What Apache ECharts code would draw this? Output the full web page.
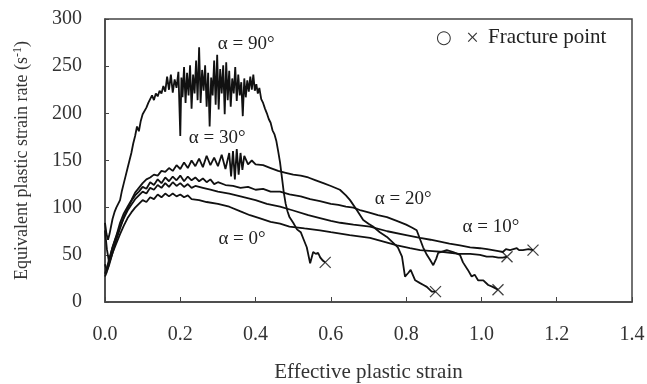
<!DOCTYPE html>
<html><head><meta charset="utf-8">
<script src="https://cdn.jsdelivr.net/npm/echarts@6/dist/echarts.min.js"></script>
<style>html,body{margin:0;padding:0;background:#fff}#c{width:647px;height:384px}</style>
</head><body><div id="c"></div>
<script>
var xTicks = [0, 0.2, 0.4, 0.6, 0.8, 1.0, 1.2, 1.4];
var yTicks = [0, 50, 100, 150, 200, 250, 300];

var alpha90 = [[0,84],[0.004,72],[0.008,66],[0.012,72],[0.016,80],[0.02,88],[0.025,95],[0.03,100],[0.035,104],[0.04,108],[0.045,118],[0.05,126],[0.055,134],[0.06,142],[0.065,150],[0.07,158],[0.075,168],[0.08,176],[0.085,186],[0.09,181],[0.095,192],[0.1,199],[0.105,197],[0.11,206],[0.115,211],[0.12,215],[0.125,219],[0.13,214],[0.135,221],[0.14,218],[0.145,224],[0.15,221],[0.155,229],[0.16,223],[0.165,239],[0.17,225],[0.175,241],[0.18,222],[0.185,236],[0.19,227],[0.195,244],[0.2,176],[0.203,238],[0.206,217],[0.21,249],[0.214,211],[0.218,243],[0.222,219],[0.226,251],[0.23,205],[0.234,241],[0.238,221],[0.242,256],[0.246,214],[0.25,270],[0.254,211],[0.258,246],[0.262,224],[0.266,251],[0.27,207],[0.274,243],[0.278,186],[0.282,238],[0.286,219],[0.29,256],[0.294,209],[0.298,262],[0.302,204],[0.306,247],[0.31,221],[0.314,251],[0.318,199],[0.322,254],[0.326,214],[0.33,245],[0.334,207],[0.338,237],[0.342,221],[0.346,249],[0.35,213],[0.354,241],[0.358,219],[0.362,233],[0.366,197],[0.37,237],[0.374,217],[0.378,235],[0.382,223],[0.386,239],[0.39,225],[0.394,241],[0.398,224],[0.402,231],[0.406,221],[0.41,227],[0.415,215],[0.42,211],[0.425,205],[0.43,200],[0.435,194],[0.44,190],[0.445,182],[0.45,178],[0.455,171],[0.46,160],[0.465,148],[0.47,132],[0.475,116],[0.48,104],[0.485,96],[0.49,90],[0.5,84],[0.51,77],[0.52,74],[0.528,66],[0.536,58],[0.545,41],[0.553,53],[0.56,51],[0.566,52],[0.572,47],[0.578,44],[0.585,42]];

var alpha30 = [[0,76],[0.005,56],[0.01,44],[0.015,50],[0.02,58],[0.03,70],[0.04,84],[0.05,94],[0.06,101],[0.07,108],[0.08,116],[0.09,121],[0.1,126],[0.11,130],[0.12,132],[0.13,135],[0.14,134],[0.15,139],[0.16,138],[0.17,142],[0.18,139],[0.19,145],[0.2,141],[0.21,148],[0.22,142],[0.23,150],[0.24,144],[0.25,152],[0.26,143],[0.27,155],[0.28,145],[0.29,153],[0.3,144],[0.31,156],[0.32,141],[0.33,158],[0.335,133],[0.34,160],[0.345,130],[0.35,162],[0.355,135],[0.36,158],[0.365,140],[0.37,155],[0.38,146],[0.39,150],[0.4,146],[0.42,145],[0.44,142],[0.46,139],[0.48,137],[0.5,135],[0.52,134],[0.54,132],[0.56,129],[0.58,126],[0.6,123],[0.624,119],[0.64,113],[0.651,108],[0.668,98],[0.686,87],[0.7,83],[0.712,80],[0.73,74],[0.749,69],[0.765,63],[0.778,58],[0.789,48],[0.797,27],[0.806,31],[0.812,34],[0.824,23],[0.837,20],[0.846,18],[0.855,16],[0.868,11],[0.878,11]];

var alpha20 = [[0,40],[0.005,33],[0.01,38],[0.02,52],[0.03,66],[0.04,78],[0.05,90],[0.06,99],[0.07,107],[0.08,113],[0.09,117],[0.1,122],[0.11,120],[0.12,127],[0.13,124],[0.14,130],[0.15,126],[0.16,132],[0.17,128],[0.18,133],[0.19,129],[0.2,134],[0.21,128],[0.22,133],[0.23,129],[0.24,132],[0.25,128],[0.26,131],[0.27,127],[0.28,130],[0.29,125],[0.3,127],[0.32,124],[0.34,123],[0.36,121],[0.38,122],[0.4,119],[0.42,120],[0.44,117],[0.465,117],[0.49,114],[0.52,112],[0.545,109],[0.571,107],[0.6,104],[0.62,103],[0.64,101],[0.66,100],[0.68,97],[0.7,95],[0.725,92],[0.749,90],[0.775,86],[0.8,82],[0.815,79],[0.828,76],[0.845,58],[0.855,50],[0.863,45],[0.872,39],[0.88,46],[0.885,52],[0.89,53],[0.908,55],[0.925,53],[0.943,50],[0.951,42],[0.964,34],[0.974,27],[0.982,29],[0.991,23],[1.005,23],[1.018,18],[1.03,16],[1.044,13]];

var alpha10 = [[0,30],[0.005,36],[0.01,44],[0.02,58],[0.03,70],[0.04,80],[0.05,89],[0.06,97],[0.07,103],[0.08,109],[0.09,113],[0.1,117],[0.11,115],[0.12,121],[0.13,119],[0.14,124],[0.15,121],[0.16,126],[0.17,122],[0.18,127],[0.19,123],[0.2,126],[0.21,122],[0.22,125],[0.23,121],[0.24,123],[0.26,121],[0.28,119],[0.3,117],[0.33,115],[0.36,112],[0.4,108],[0.43,104],[0.465,101],[0.5,97],[0.54,92],[0.571,89],[0.6,86],[0.625,84],[0.66,82],[0.704,80],[0.75,75],[0.8,71],[0.837,68],[0.865,66],[0.89,64],[0.915,62],[0.943,60],[0.97,58],[0.996,57],[1.015,56],[1.03,55],[1.045,54],[1.057,53],[1.065,56],[1.076,55],[1.085,56],[1.094,57],[1.1,55],[1.11,55],[1.125,56],[1.137,55]];

var alpha0 = [[0,27],[0.005,32],[0.01,40],[0.02,52],[0.03,62],[0.04,72],[0.05,81],[0.06,89],[0.07,95],[0.08,100],[0.09,104],[0.1,108],[0.11,106],[0.12,111],[0.13,109],[0.14,114],[0.15,111],[0.16,115],[0.17,112],[0.18,115],[0.19,112],[0.2,114],[0.21,111],[0.22,113],[0.23,109],[0.25,108],[0.27,106],[0.3,104],[0.33,101],[0.36,96],[0.385,92],[0.41,89],[0.44,85],[0.465,83],[0.49,80],[0.53,78],[0.571,76],[0.6,74],[0.65,71],[0.704,68],[0.74,64],[0.776,60],[0.81,57],[0.837,55],[0.87,54],[0.9,53],[0.94,51],[0.97,51],[0.996,50],[1.014,48],[1.03,48],[1.045,47],[1.057,47],[1.068,48]];

var curveNames = ['α = 90°', 'α = 30°', 'α = 20°', 'α = 10°', 'α = 0°'];
var curves = [alpha90, alpha30, alpha20, alpha10, alpha0];
var labelPos = [[0.375, 273], [0.298, 174], [0.792, 109], [1.025, 80], [0.364, 67]];

var FONT = 'Liberation Serif';
var chart = echarts.init(document.getElementById('c'), null, {renderer: 'canvas'});

var series = curves.map(function (d, i) {
  return {
    type: 'line', name: curveNames[i], data: d, showSymbol: false, symbol: 'none',
    lineStyle: {color: '#111', width: 1.8}, animation: false, z: 3,
    markPoint: {
      symbol: 'circle', symbolSize: 0, animation: false,
      label: {show: true, formatter: curveNames[i], color: '#222', fontFamily: FONT, fontSize: 19, position: 'inside'},
      data: [{coord: labelPos[i]}]
    }
  };
});
series.push({
  type: 'scatter', name: 'Fracture point', animation: false, z: 4,
  symbol: 'path://M0,0L10,10M10,0L0,10', symbolSize: 11,
  itemStyle: {color: 'rgba(0,0,0,0)', borderColor: '#111', borderWidth: 1.3},
  data: curves.map(function (d) { return d[d.length - 1]; })
});

chart.setOption({
  backgroundColor: '#fff',
  animation: false,
  grid: {left: 105, top: 19, right: 15, bottom: 82, show: true, borderColor: '#444', borderWidth: 1.5,
         containLabel: false, outerBoundsMode: 'none'},
  xAxis: {
    type: 'value', min: 0, max: 1.4, interval: 0.2,
    axisLine: {show: true, lineStyle: {color: '#444', width: 1.5}},
    axisTick: {show: true, inside: true, length: 5, lineStyle: {color: '#444'}},
    splitLine: {show: false},
    axisLabel: {margin: 23, color: '#333', fontFamily: FONT, fontSize: 20, formatter: function (v) { return v.toFixed(1); }},
    name: 'Effective plastic strain', nameLocation: 'middle', nameGap: 60,
    nameTextStyle: {color: '#333', fontFamily: FONT, fontSize: 21}
  },
  yAxis: {
    type: 'value', min: 0, max: 300, interval: 50,
    axisLine: {show: true, lineStyle: {color: '#444', width: 1.5}},
    axisTick: {show: true, inside: true, length: 4, lineStyle: {color: '#444'}},
    splitLine: {show: false},
    axisLabel: {margin: 23, color: '#333', fontFamily: FONT, fontSize: 20},
    name: 'Equivalent plastic strain rate (s{sup|-1})', nameLocation: 'middle', nameGap: 73,
    nameTextStyle: {color: '#333', fontFamily: FONT, fontSize: 18,
      rich: {sup: {fontFamily: FONT, fontSize: 12, color: '#333', padding: [0, 0, 8, 0]}}}
  },
  graphic: [
    {type: 'text', left: 436, top: 29, style: {text: '○', font: '18px "DejaVu Sans"', fill: '#333'}},
    {type: 'text', left: 466, top: 27, style: {text: '×', font: '23px "Liberation Serif"', fill: '#333'}},
    {type: 'text', left: 488, top: 27, style: {text: 'Fracture point', font: '21px "Liberation Serif"', fill: '#222'}}
  ],
  series: series
});
</script>
</body></html>
